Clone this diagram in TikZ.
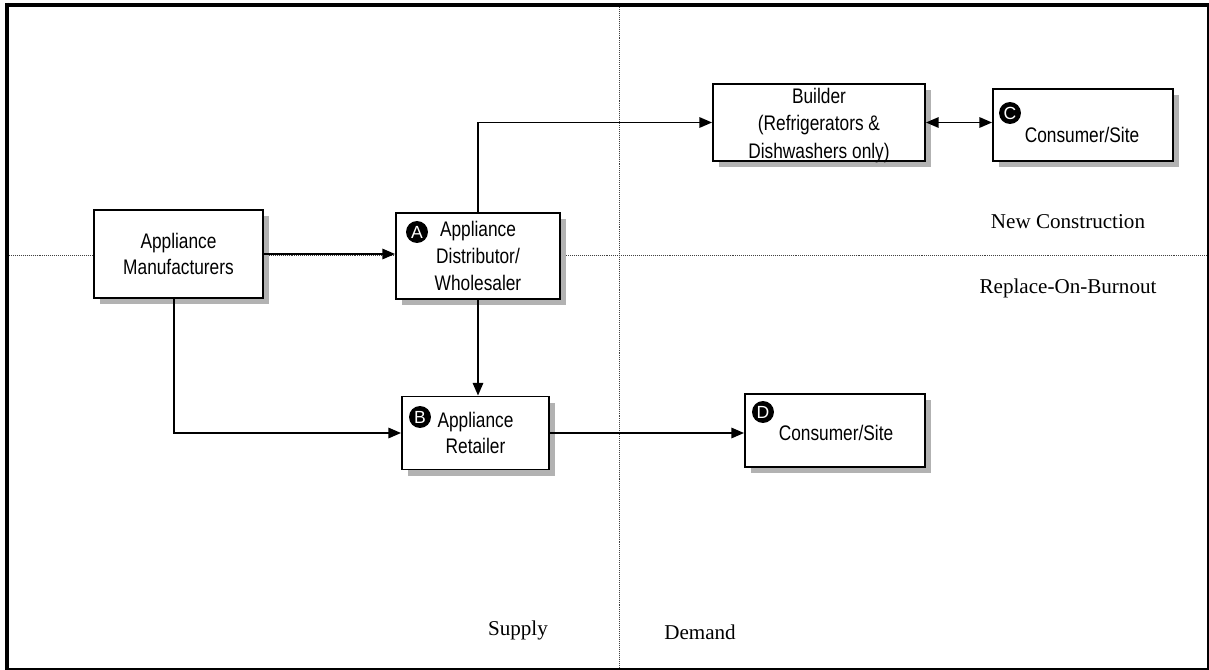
\documentclass[tikz,border=0pt]{standalone}
\usepackage{fontspec}
\setmainfont{Liberation Serif}
\newfontfamily\narrowsans[FakeStretch=0.82]{Liberation Sans}
\newfontfamily\badgesans{Liberation Sans}
\usetikzlibrary{arrows.meta,shadows}

\begin{document}
\begin{tikzpicture}[x=0.025cm,y=-0.025cm,
  >={Triangle[length=9pt,width=7.5pt]},
  flowbox/.style={draw, line width=1.4pt, fill=white, inner sep=0pt,
    align=center, font=\narrowsans\fontsize{15}{19}\selectfont,
    drop shadow={shadow xshift=4.3pt, shadow yshift=-4.3pt, fill=black!30, opacity=1}},
  boxtext/.style={inner sep=0pt, align=center, font=\narrowsans\fontsize{15}{19.5}\selectfont},
  badge/.style={circle, fill=black, text=white, inner sep=0pt, minimum size=15.6pt,
    font=\badgesans\fontsize{12.5}{12.5}\selectfont},
  flow/.style={line width=1pt, ->},
  region/.style={draw=black!75, line width=0.7pt, dash pattern=on 0.7pt off 0.7pt},
  caption/.style={inner sep=0pt, font=\fontsize{15}{18}\selectfont}]

\useasboundingbox (0,0) rectangle (1209,670);

% supply/demand and new/replacement dividers
\draw[region] (9,255) -- (1207,255);
\draw[region] (619,7) -- (619,668);

% outer frame: heavy top and left, light right and bottom
\draw[line width=2.8pt] (5,5) -- (1209,5);
\draw[line width=2.8pt] (7,3) -- (7,669);
\draw[line width=1.4pt] (1208,5) -- (1208,670);
\draw[line width=1.4pt] (5,669) -- (1209,669);

% boxes
\node[flowbox, minimum width=169*0.025cm, minimum height=88*0.025cm]
  (manu) at (178.5,254) {Appliance\\Manufacturers};
\node[flowbox, minimum width=164*0.025cm, minimum height=86*0.025cm]
  (dist) at (478,256) {Appliance\\Distributor/\\Wholesaler};
\node[flowbox, minimum width=147*0.025cm, minimum height=73*0.025cm]
  (ret) at (475.5,433) {Appliance\\Retailer};
\node[flowbox, minimum width=212*0.025cm, minimum height=77*0.025cm]
  (build) at (819,122.5) {};
\node[boxtext] (buildtext) at (819,125.5) {Builder\\(Refrigerators \&\\Dishwashers only)};
\node[flowbox, minimum width=180*0.025cm, minimum height=72*0.025cm]
  (consC) at (1083,125) {};
\node[boxtext] (consCtext) at (1082,135) {Consumer/Site};
\node[flowbox, minimum width=180*0.025cm, minimum height=73*0.025cm]
  (consD) at (835,430.5) {};
\node[boxtext] (consDtext) at (836,433) {Consumer/Site};

% lettered markers
\node[badge] (bA) at (417,232) {A};
\node[badge] (bB) at (420,417) {B};
\node[badge] (bC) at (1010,113) {C};
\node[badge] (bD) at (763,412) {D};

% flows
\draw[flow] (manu.east) -- (manu.east -| dist.west);
\draw[flow] (dist.north) |- (build.west);
\draw[line width=1pt, <->] (build.east) -- (build.east -| consC.west);
\draw[flow] (dist.south) -- (dist.south |- ret.north);
\draw[flow] (manu.south -| 174,0) |- (ret.west);
\draw[flow] (ret.east) -- (ret.east -| consD.west);

% region captions
\node[caption] (newc) at (1068,222) {New Construction};
\node[caption] (rob) at (1068,288) {Replace-On-Burnout};
\node[caption] (supply) at (518,630) {Supply};
\node[caption] (demand) at (700,632) {Demand};
\end{tikzpicture}
\end{document}
